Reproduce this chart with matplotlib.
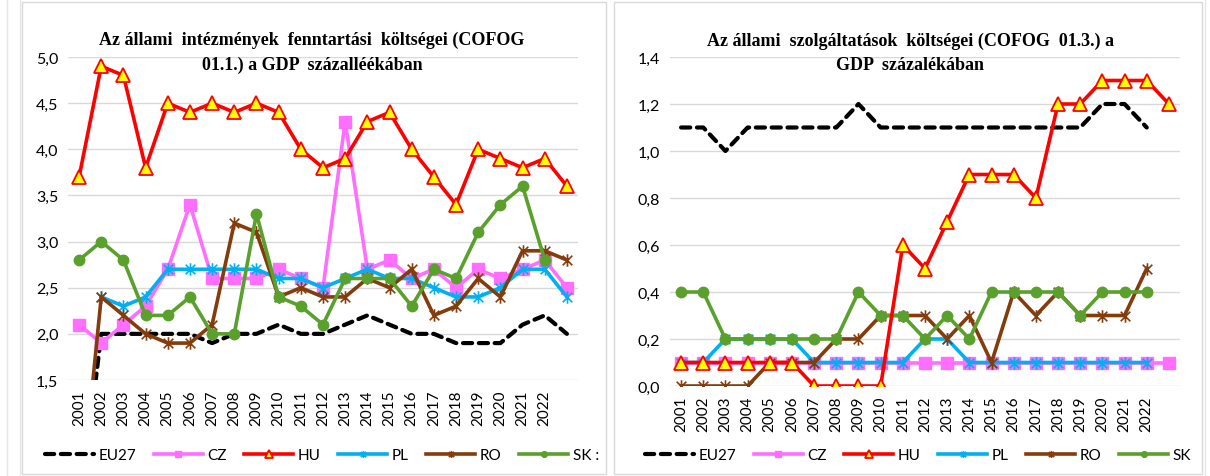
import numpy as np
import matplotlib
matplotlib.use("Agg")
import matplotlib.pyplot as plt
from matplotlib.path import Path
from matplotlib.patches import Rectangle

nan = np.nan
years = [str(y) for y in range(2001, 2023)] + [""]

# Left chart: COFOG 01.1
l_eu27 = [0.0, 2.0, 2.0, 2.0, 2.0, 2.0, 1.9, 2.0, 2.0, 2.1, 2.0, 2.0, 2.1, 2.2, 2.1, 2.0, 2.0, 1.9, 1.9, 1.9, 2.1, 2.2, 2.0]
l_cz = [2.1, 1.9, 2.1, 2.3, 2.7, 3.4, 2.6, 2.6, 2.6, 2.7, 2.6, 2.5, 4.3, 2.7, 2.8, 2.6, 2.7, 2.5, 2.7, 2.6, 2.7, 2.8, 2.5]
l_hu = [3.7, 4.9, 4.8, 3.8, 4.5, 4.4, 4.5, 4.4, 4.5, 4.4, 4.0, 3.8, 3.9, 4.3, 4.4, 4.0, 3.7, 3.4, 4.0, 3.9, 3.8, 3.9, 3.6]
l_pl = [nan, 2.4, 2.3, 2.4, 2.7, 2.7, 2.7, 2.7, 2.7, 2.6, 2.6, 2.5, 2.6, 2.7, 2.6, 2.6, 2.5, 2.4, 2.4, 2.5, 2.7, 2.7, 2.4]
l_ro = [0.0, 2.4, 2.2, 2.0, 1.9, 1.9, 2.1, 3.2, 3.1, 2.4, 2.5, 2.4, 2.4, 2.6, 2.5, 2.7, 2.2, 2.3, 2.6, 2.4, 2.9, 2.9, 2.8]
l_sk = [2.8, 3.0, 2.8, 2.2, 2.2, 2.4, 2.0, 2.0, 3.3, 2.4, 2.3, 2.1, 2.6, 2.6, 2.6, 2.3, 2.7, 2.6, 3.1, 3.4, 3.6, 2.8, nan]

# Right chart: COFOG 01.3
r_eu27 = [1.1, 1.1, 1.0, 1.1, 1.1, 1.1, 1.1, 1.1, 1.2, 1.1, 1.1, 1.1, 1.1, 1.1, 1.1, 1.1, 1.1, 1.1, 1.1, 1.2, 1.2, 1.1, nan]
r_cz = [0.1] * 23
r_hu = [0.1, 0.1, 0.1, 0.1, 0.1, 0.1, 0.0, 0.0, 0.0, 0.0, 0.6, 0.5, 0.7, 0.9, 0.9, 0.9, 0.8, 1.2, 1.2, 1.3, 1.3, 1.3, 1.2]
r_pl = [0.1, 0.1, 0.2, 0.2, 0.2, 0.2, 0.1, 0.1, 0.1, 0.1, 0.1, 0.2, 0.2, 0.1, 0.1, 0.1, 0.1, 0.1, 0.1, 0.1, 0.1, 0.1, nan]
r_ro = [0.0, 0.0, 0.0, 0.0, 0.1, 0.1, 0.1, 0.2, 0.2, 0.3, 0.3, 0.3, 0.2, 0.3, 0.1, 0.4, 0.3, 0.4, 0.3, 0.3, 0.3, 0.5, nan]
r_sk = [0.4, 0.4, 0.2, 0.2, 0.2, 0.2, 0.2, 0.2, 0.4, 0.3, 0.3, 0.2, 0.3, 0.2, 0.4, 0.4, 0.4, 0.4, 0.3, 0.4, 0.4, 0.4, nan]

left_title = "Az állami  intézmények  fenntartási  költségei (COFOG\n01.1.) a GDP  százalléékában"
right_title = "Az állami  szolgáltatások  költségei (COFOG  01.3.) a\nGDP  százalékában"
left_legend = ["EU27", "CZ", "HU", "PL", "RO", "SK :"]
right_legend = ["EU27", "CZ", "HU", "PL", "RO", "SK"]

C_EU = "black"
C_CZ = "#FF6EFF"
C_HU = "#FF0000"
C_PL = "#00B0F0"
C_RO = "#843C0C"
C_SK = "#5AA02C"

star = Path([(-1, -1), (1, 1), (-1, 1), (1, -1), (0, -1.3), (0, 1.3)],
            [Path.MOVETO, Path.LINETO, Path.MOVETO, Path.LINETO, Path.MOVETO, Path.LINETO])

TICKFONT = "Lato"
W, H = 1210, 477
fig = plt.figure(figsize=(W / 100, H / 100), dpi=100)

# faint spreadsheet cell lines behind the charts
for xx in [7, 20, 1205]:
    fig.add_artist(plt.Line2D([xx / W, xx / W], [0, 1], transform=fig.transFigure,
                              color="#E6E6E6", lw=1, zorder=-3))

# chart frames
for (x0, x1) in [(22, 606), (614, 1202)]:
    fig.add_artist(Rectangle((x0 / W, 2 / H), (x1 - x0) / W, (474 - 2) / H,
                             transform=fig.transFigure, facecolor="white",
                             edgecolor="#D9D9D9", lw=1, zorder=-2))


def draw(ax, data, ylim, step):
    eu, cz, hu, pl, ro, sk = data
    x = np.arange(len(years))
    lw = 2.6
    ax.plot(x, eu, color=C_EU, lw=3, ls=(0, (2.2, 1.6)), dash_capstyle="round",
            label="EU27", zorder=3)
    ax.plot(x, cz, color=C_CZ, lw=lw, marker="s", ms=8, mfc=C_CZ, mec=C_CZ,
            label="CZ", zorder=3)
    ax.plot(x, hu, color=C_HU, lw=lw, marker="^", ms=10, mfc="#FFFF00", mec=C_HU,
            mew=1.3, label="HU", zorder=4)
    ax.plot(x, pl, color=C_PL, lw=lw, marker=star, ms=9, mec=C_PL, mew=1.2,
            label="PL", zorder=3)
    ax.plot(x, ro, color=C_RO, lw=lw, marker=star, ms=9, mec=C_RO, mew=1.2,
            label="RO", zorder=3)
    ax.plot(x, sk, color=C_SK, lw=lw, marker="o", ms=7.5, mfc=C_SK, mec=C_SK,
            label="SK", zorder=3)
    ax.set_xlim(-0.5, len(years) - 0.5)
    ax.set_ylim(*ylim)
    ticks = np.arange(ylim[0], ylim[1] + step / 2, step)
    ax.set_yticks(ticks)
    ax.set_yticklabels([f"{t:.1f}".replace(".", ",") for t in ticks],
                       fontsize=11.5, family=TICKFONT)
    ax.set_xticks(x)
    ax.set_xticklabels(years, rotation=90, fontsize=11, family=TICKFONT)
    ax.tick_params(length=0, pad=7)
    ax.grid(axis="y", color="#D9D9D9", lw=1)
    ax.set_axisbelow(True)
    ax.patch.set_alpha(0)
    for s in ax.spines.values():
        s.set_visible(False)
    return ax


axL = fig.add_axes([68 / W, 1 - 381 / H, 510 / W, (381 - 58) / H])
draw(axL, (l_eu27, l_cz, l_hu, l_pl, l_ro, l_sk), (1.5, 5.0), 0.5)
axR = fig.add_axes([670 / W, 1 - 387 / H, 510 / W, (387 - 58) / H])
draw(axR, (r_eu27, r_cz, r_hu, r_pl, r_ro, r_sk), (0.0, 1.4), 0.2)

fig.text(312 / W, 1 - 53 / H, left_title, ha="center", va="center",
         family="Liberation Serif", weight="bold", fontsize=13, linespacing=1.55,
         zorder=5)
fig.text(910 / W, 1 - 53 / H, right_title, ha="center", va="center",
         family="Liberation Serif", weight="bold", fontsize=13, linespacing=1.55,
         zorder=5)

for ax, cx, labels in [(axL, 322, left_legend), (axR, 918, right_legend)]:
    handles, _ = ax.get_legend_handles_labels()
    fig.legend(handles, labels, loc="center", bbox_to_anchor=(cx / W, 1 - 456 / H),
               ncol=6, frameon=False, handlelength=3.2, columnspacing=1.15,
               handletextpad=0.3, prop={"family": TICKFONT, "size": 11},
               markerscale=0.55)

fig.savefig("out.png", dpi=100)
